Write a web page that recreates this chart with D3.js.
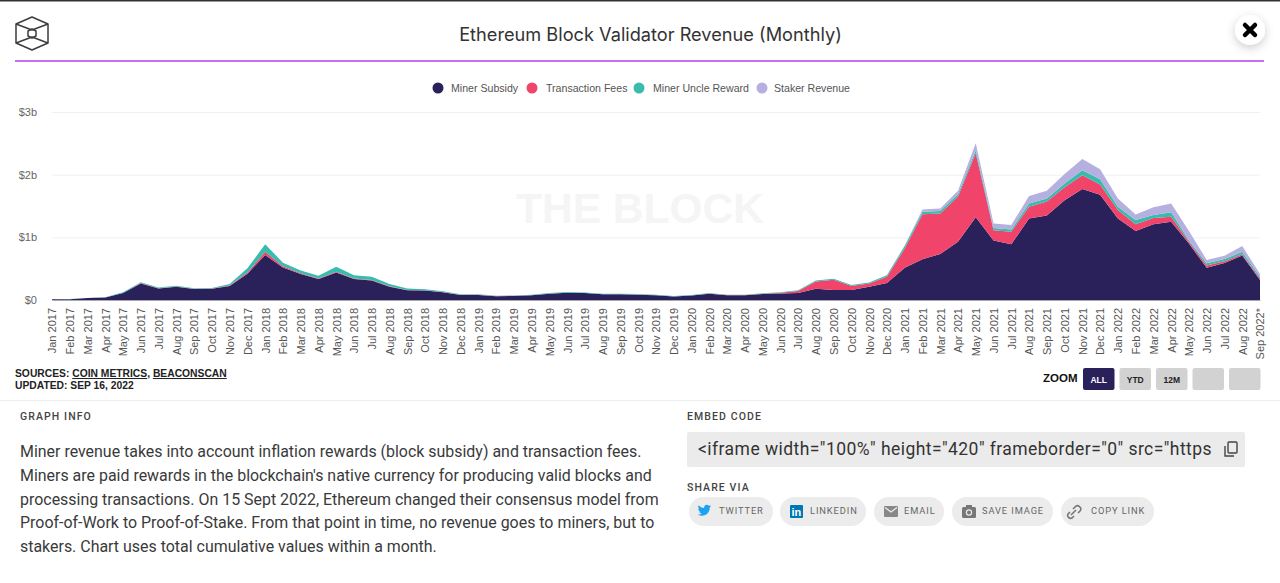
<!DOCTYPE html>
<html lang="en">
<head>
<meta charset="utf-8">
<title>Ethereum Block Validator Revenue (Monthly)</title>
<script src="https://cdn.jsdelivr.net/npm/d3@7"></script>
<style type="text/css">
  html, body { margin: 0; padding: 0; background: #fff; overflow: hidden; }
  svg { display: block; }
</style>
</head>
<body>
<script type="text/javascript">
// values in $ billions
var months = ["Jan 2017","Feb 2017","Mar 2017","Apr 2017","May 2017","Jun 2017","Jul 2017","Aug 2017","Sep 2017","Oct 2017","Nov 2017","Dec 2017",
  "Jan 2018","Feb 2018","Mar 2018","Apr 2018","May 2018","Jun 2018","Jul 2018","Aug 2018","Sep 2018","Oct 2018","Nov 2018","Dec 2018",
  "Jan 2019","Feb 2019","Mar 2019","Apr 2019","May 2019","Jun 2019","Jul 2019","Aug 2019","Sep 2019","Oct 2019","Nov 2019","Dec 2019",
  "Jan 2020","Feb 2020","Mar 2020","Apr 2020","May 2020","Jun 2020","Jul 2020","Aug 2020","Sep 2020","Oct 2020","Nov 2020","Dec 2020",
  "Jan 2021","Feb 2021","Mar 2021","Apr 2021","May 2021","Jun 2021","Jul 2021","Aug 2021","Sep 2021","Oct 2021","Nov 2021","Dec 2021",
  "Jan 2022","Feb 2022","Mar 2022","Apr 2022","May 2022","Jun 2022","Jul 2022","Aug 2022","Sep 2022*"];

var minerSubsidy = [.01,.012,.03,.04,.11,.265,.185,.21,.175,.18,.225,.42,
  .72,.52,.415,.335,.44,.335,.31,.21,.155,.15,.125,.08,
  .08,.06,.065,.075,.1,.115,.11,.09,.09,.085,.075,.055,
  .07,.1,.075,.075,.095,.105,.11,.18,.16,.16,.21,.27,
  .515,.65,.735,.93,1.32,.95,.89,1.3,1.35,1.59,1.77,1.68,
  1.3,1.1,1.21,1.25,.9,.515,.59,.71,.32];

var transactionFees = [0,0,0,0,.002,.005,.003,.004,.003,.003,.005,.02,
  .05,.02,.01,.01,.01,.01,.01,.01,.005,.005,.004,.002,
  .002,.002,.002,.002,.002,.002,.002,.002,.002,.002,.002,.002,
  .002,.003,.003,.003,.005,.01,.035,.115,.165,.065,.055,.1,
  .305,.72,.645,.72,1.02,.165,.2,.19,.22,.21,.22,.165,
  .135,.11,.1,.08,.03,.035,.03,.02,.025];

var minerUncleReward = [.002,.002,.003,.004,.01,.015,.01,.012,.01,.01,.025,.065,
  .12,.055,.045,.04,.08,.05,.05,.035,.025,.015,.012,.008,
  .008,.006,.006,.007,.008,.009,.009,.008,.008,.008,.007,.006,
  .006,.008,.006,.006,.008,.01,.012,.015,.015,.015,.015,.025,
  .04,.04,.04,.04,.05,.035,.035,.05,.05,.06,.08,.08,
  .055,.065,.045,.07,.025,.035,.035,.04,.025];

var stakerRevenue = [0,0,0,0,0,0,0,0,0,0,0,0,
  0,0,0,0,0,0,0,0,0,0,0,0,
  0,0,0,0,0,0,0,0,0,0,0,0,
  0,0,0,0,0,0,0,0,0,0,0,.005,
  .01,.035,.04,.055,.11,.07,.07,.12,.125,.15,.18,.16,
  .13,.09,.125,.14,.145,.055,.05,.09,.045];

var seriesNames = ["Miner Subsidy", "Transaction Fees", "Miner Uncle Reward", "Staker Revenue"];
var seriesColors = ["#2a215b", "#f0446a", "#38bcae", "#b6b0e0"];
var seriesValues = [minerSubsidy, transactionFees, minerUncleReward, stakerRevenue];
var yTicks = [0, 1, 2, 3];

var infoLines = ["Miner revenue takes into account inflation rewards (block subsidy) and transaction fees.",
  "Miners are paid rewards in the blockchain's native currency for producing valid blocks and",
  "processing transactions. On 15 Sept 2022, Ethereum changed their consensus model from",
  "Proof-of-Work to Proof-of-Stake. From that point in time, no revenue goes to miners, but to",
  "stakers. Chart uses total cumulative values within a month."];

var w = 1280, h = 583;
var axisFont = "'Liberation Sans', Arial, sans-serif";
var uiFont = "Roboto, sans-serif";

var svg = d3.select("body").append("svg").attr("width", w).attr("height", h);
var defs = svg.append("defs");

var shadow = defs.append("filter").attr("id", "shadow").attr("x", "-60%").attr("y", "-60%").attr("width", "220%").attr("height", "220%");
shadow.append("feDropShadow").attr("dx", 0).attr("dy", 3).attr("stdDeviation", 5).attr("flood-color", "#000").attr("flood-opacity", 0.2);

// header
svg.append("rect").attr("width", w).attr("height", 1.5).attr("fill", "#333");

var logo = svg.append("g").attr("fill", "none").attr("stroke", "#3d3d3d").attr("stroke-width", 1.5).attr("stroke-linejoin", "round");
logo.append("path").attr("d", "M32 17L48 24V43L32 50L16 43V24Z");
logo.append("path").attr("d", "M16 24L32 30L48 24M16 43L32 37L48 43");
logo.append("path").attr("d", "M32 29L36 31V36L32 38L28 36V31Z");

svg.append("text").attr("x", 650.5).attr("y", 41).attr("text-anchor", "middle")
  .attr("font-family", "Inter, sans-serif").attr("font-size", 18.2).attr("fill", "#333")
  .text("Ethereum Block Validator Revenue (Monthly)");

svg.append("rect").attr("x", 15).attr("y", 60).attr("width", 1249).attr("height", 2).attr("fill", "#c86ef0");

svg.append("circle").attr("cx", 1250).attr("cy", 30).attr("r", 15).attr("fill", "#fff").attr("filter", "url(#shadow)");
svg.append("path").attr("d", "M1245 25L1255 35M1255 25L1245 35").attr("stroke", "#000").attr("stroke-width", 4.5).attr("stroke-linecap", "round");

// legend
var legendDotX = [438, 532, 639, 762];
var legendTextX = [451, 546, 653, 774];
var legend = svg.append("g").selectAll("g").data(seriesNames).enter().append("g");
legend.append("circle")
  .attr("cx", function(d, i) { return legendDotX[i]; })
  .attr("cy", 88).attr("r", 5.5)
  .attr("fill", function(d, i) { return seriesColors[i]; });
legend.append("text")
  .attr("x", function(d, i) { return legendTextX[i]; })
  .attr("y", 92)
  .attr("font-family", axisFont).attr("font-size", 10.6).attr("fill", "#555")
  .text(function(d) { return d; });

// chart
var xScale = d3.scalePoint().domain(months).range([52, 1260]);
var yScale = d3.scaleLinear().domain([0, 3]).range([300, 112]);

var rows = months.map(function(m, i) {
  var row = { month: m };
  seriesNames.forEach(function(name, s) { row[name] = seriesValues[s][i]; });
  return row;
});
var stacked = d3.stack().keys(seriesNames)(rows);

var yAxis = d3.axisLeft(yScale).tickValues(yTicks).tickSize(-1208).tickPadding(15)
  .tickFormat(function(d) { return d === 0 ? "$0" : "$" + d + "b"; });
var yG = svg.append("g").attr("transform", "translate(52,0)").call(yAxis);
yG.select(".domain").remove();
yG.selectAll("line").attr("stroke", "#f0f0f0").attr("stroke-width", 1);
yG.selectAll("text").attr("font-family", axisFont).attr("font-size", 11).attr("fill", "#666").attr("x", -15);

svg.append("text").attr("x", 640).attr("y", 222.500).attr("text-anchor", "middle")
  .attr("font-family", axisFont).attr("font-weight", "bold").attr("font-size", 42.5)
  .attr("fill", "#f5f5f5").text("THE BLOCK");

var area = d3.area()
  .x(function(d) { return xScale(d.data.month); })
  .y0(function(d) { return yScale(d[0]); })
  .y1(function(d) { return yScale(d[1]); });

svg.append("g").selectAll("path").data(stacked).enter().append("path")
  .attr("d", area)
  .attr("fill", function(d, i) { return seriesColors[i]; });

var xAxis = d3.axisBottom(xScale).tickSize(0).tickPadding(0);
var xG = svg.append("g").attr("transform", "translate(0,300)").call(xAxis);
xG.select(".domain").attr("stroke", "#aaa").attr("stroke-width", 1);
xG.selectAll("text")
  .attr("font-family", axisFont).attr("font-size", 11).attr("fill", "#555")
  .attr("text-anchor", "end").attr("transform", "translate(0,8) rotate(-90)")
  .attr("x", 0).attr("y", 0).attr("dy", "0.35em");

// sources
var sources = svg.append("text").attr("x", 15).attr("y", 377)
  .attr("font-family", axisFont).attr("font-weight", "bold").attr("font-size", 10.3).attr("fill", "#222");
sources.append("tspan").text("SOURCES: ");
sources.append("tspan").attr("text-decoration", "underline").text("COIN METRICS");
sources.append("tspan").text(", ");
sources.append("tspan").attr("text-decoration", "underline").text("BEACONSCAN");
svg.append("text").attr("x", 15).attr("y", 389)
  .attr("font-family", axisFont).attr("font-weight", "bold").attr("font-size", 10.3).attr("fill", "#222")
  .text("UPDATED: SEP 16, 2022");

// zoom buttons
var zoomLabels = ["ALL", "YTD", "12M", "", ""];
var zoomX = [1083, 1119.5, 1156, 1192.5, 1229];
svg.append("text").attr("x", 1043).attr("y", 382)
  .attr("font-family", axisFont).attr("font-weight", "bold").attr("font-size", 11.5).attr("fill", "#111").text("ZOOM");
var zoomG = svg.append("g").selectAll("g").data(zoomLabels).enter().append("g");
zoomG.append("rect")
  .attr("x", function(d, i) { return zoomX[i]; })
  .attr("y", 368).attr("width", 31.5).attr("height", 22).attr("rx", 2)
  .attr("fill", function(d, i) { return i === 0 ? "#2a215b" : "#d2d2d2"; });
zoomG.append("text")
  .attr("x", function(d, i) { return zoomX[i] + 15.75; })
  .attr("y", 383).attr("text-anchor", "middle")
  .attr("font-family", axisFont).attr("font-weight", "bold").attr("font-size", 8.5)
  .attr("fill", function(d, i) { return i === 0 ? "#fff" : "#222"; })
  .text(function(d) { return d; });

svg.append("rect").attr("x", 0).attr("y", 400).attr("width", w).attr("height", 1).attr("fill", "#eee");

// graph info
function sectionLabel(x, y, t) {
  svg.append("text").attr("x", x).attr("y", y)
    .attr("font-family", uiFont).attr("font-weight", 500).attr("font-size", 10.5)
    .attr("letter-spacing", 1.1).attr("fill", "#444").text(t);
}
sectionLabel(20, 420, "GRAPH INFO");
sectionLabel(687, 420, "EMBED CODE");
sectionLabel(687, 491, "SHARE VIA");

svg.append("g").selectAll("text").data(infoLines).enter().append("text")
  .attr("x", 20)
  .attr("y", function(d, i) { return 457 + i * 23.8; })
  .attr("font-family", uiFont).attr("font-size", 15.95).attr("fill", "#3a3a3a")
  .text(function(d) { return d; });

// embed box
svg.append("rect").attr("x", 687).attr("y", 432).attr("width", 558).attr("height", 35).attr("rx", 2).attr("fill", "#ebebeb");
svg.append("text").attr("x", 698).attr("y", 455)
  .attr("font-family", uiFont).attr("font-size", 17.5).attr("letter-spacing", 0.45).attr("fill", "#333")
  .text('<iframe width="100%" height="420" frameborder="0" src="https');
var copyIcon = svg.append("g").attr("fill", "none").attr("stroke", "#444").attr("stroke-width", 1.4);
copyIcon.append("rect").attr("x", 1228).attr("y", 442).attr("width", 9).attr("height", 11).attr("rx", 1);
copyIcon.append("path").attr("d", "M1225 446V456H1234");

// share buttons
var shareLabels = ["TWITTER", "LINKEDIN", "EMAIL", "SAVE IMAGE", "COPY LINK"];
var shareX = [689, 780, 874, 952, 1061];
var shareW = [84, 86, 70, 101, 93];
var shareG = svg.append("g").selectAll("g").data(shareLabels).enter().append("g");
shareG.append("rect")
  .attr("x", function(d, i) { return shareX[i]; })
  .attr("y", 497).attr("height", 29).attr("rx", 14.5)
  .attr("width", function(d, i) { return shareW[i]; })
  .attr("fill", "#ececec");
shareG.append("text")
  .attr("x", function(d, i) { return shareX[i] + 30; })
  .attr("y", 514)
  .attr("font-family", uiFont).attr("font-size", 9.3).attr("letter-spacing", 0.9).attr("fill", "#666")
  .text(function(d) { return d; });

// share icons
svg.append("path").attr("fill", "#1da1f2")
  .attr("d", "M711 506c-.5.3-1 .4-1.6.5.6-.3 1-.8 1.2-1.5-.5.3-1.100.5-1.800.7-.5-.6-1.200-.9-2-.9-1.500 0-2.700 1.200-2.700 2.700 0 .2 0 .4.100.6-2.300-.1-4.300-1.200-5.600-2.800-.2.400-.4.900-.4 1.400 0 .9.500 1.800 1.200 2.300-.4 0-.9-.1-1.200-.3 0 1.300.9 2.400 2.200 2.700-.4.100-.8.100-1.200.1.300 1.100 1.300 1.800 2.500 1.900-1.200.9-2.600 1.300-4 1.200 1.200.8 2.600 1.200 4.200 1.200 5 0 7.800-4.200 7.800-7.800v-.4c.5-.4 1-.9 1.300-1.600z");
svg.append("rect").attr("x", 790).attr("y", 505).attr("width", 13).attr("height", 13).attr("rx", 1).attr("fill", "#0077b5");
svg.append("text").attr("x", 791.5).attr("y", 516).attr("font-family", axisFont).attr("font-weight", "bold").attr("font-size", 11).attr("fill", "#fff").text("in");
svg.append("rect").attr("x", 884).attr("y", 506).attr("width", 14).attr("height", 11).attr("rx", 1).attr("fill", "#888");
svg.append("path").attr("d", "M885 507.500L891 512L897 507.500").attr("fill", "none").attr("stroke", "#ececec").attr("stroke-width", 1.3);
svg.append("rect").attr("x", 962).attr("y", 507).attr("width", 14).attr("height", 11).attr("rx", 1.5).attr("fill", "#777");
svg.append("rect").attr("x", 966).attr("y", 505).attr("width", 6).attr("height", 3).attr("fill", "#777");
svg.append("circle").attr("cx", 969).attr("cy", 512.500).attr("r", 2.6).attr("fill", "#777").attr("stroke", "#ececec").attr("stroke-width", 1.2);
svg.append("path").attr("d", "M1071 515L1076 510M1073 509L1075 507A3 3 0 0 1 1080 511L1078 513M1074 516L1072 518A3 3 0 0 1 1068 514L1070 512")
  .attr("fill", "none").attr("stroke", "#777").attr("stroke-width", 1.6);
</script>
</body>
</html>
